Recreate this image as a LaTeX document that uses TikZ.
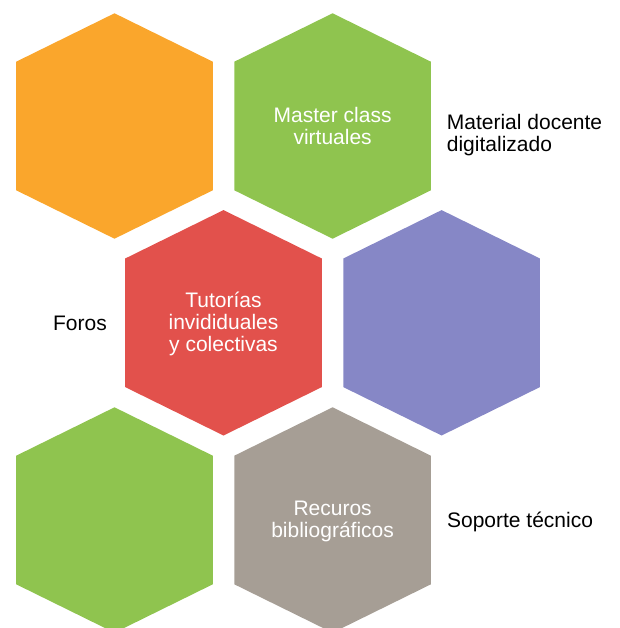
\documentclass[tikz,border=0pt]{standalone}
\usepackage{fontspec}
\setmainfont{Liberation Sans}
\definecolor{hexorange}{RGB}{250,166,44}
\definecolor{hexgreen}{RGB}{143,196,79}
\definecolor{hexred}{RGB}{226,81,76}
\definecolor{hexpurple}{RGB}{134,135,198}
\definecolor{hexgrey}{RGB}{166,158,149}
\tikzset{
  hexagon/.pic={\fill (0,-112.7) -- (98.3,-64.3) -- (98.3,64.3) -- (0,112.7) -- (-98.3,64.3) -- (-98.3,-64.3) -- cycle;},
  intext/.style={text=white, align=center, inner sep=0pt, font=\fontsize{21}{22}\selectfont},
  outtext/.style={text=black, align=left, inner sep=0pt, font=\fontsize{21}{22}\selectfont}
}
\begin{document}
\begin{tikzpicture}[x=1pt,y=-1pt]
\useasboundingbox (0,0) rectangle (619,628);
\begin{scope}
\clip (0,0) rectangle (619,628);
\pic[fill=hexorange] at (114.5,126) {hexagon};
\pic[fill=hexgreen] at (332.6,126) {hexagon};
\pic[fill=hexred] at (223.5,322.8) {hexagon};
\pic[fill=hexpurple] at (441.6,322.8) {hexagon};
\pic[fill=hexgreen] at (114.5,520) {hexagon};
\pic[fill=hexgrey] at (332.6,520) {hexagon};
\end{scope}
\node[intext] (master) at (332.6,125.8) {Master class\\virtuales};
\node[outtext, anchor=west] (material) at (446.7,134.7) {Material docente\\digitalizado};
\node[intext] (tutorias) at (223.5,324.1) {Tutorías\\invididuales\\y colectivas};
\node[outtext, anchor=base east] (foros) at (107,330) {Foros};
\node[intext] (recursos) at (332.6,521.5) {Recuros\\bibliográficos};
\node[outtext, anchor=base west] (soporte) at (446.9,527) {Soporte técnico};
\end{tikzpicture}
\end{document}
